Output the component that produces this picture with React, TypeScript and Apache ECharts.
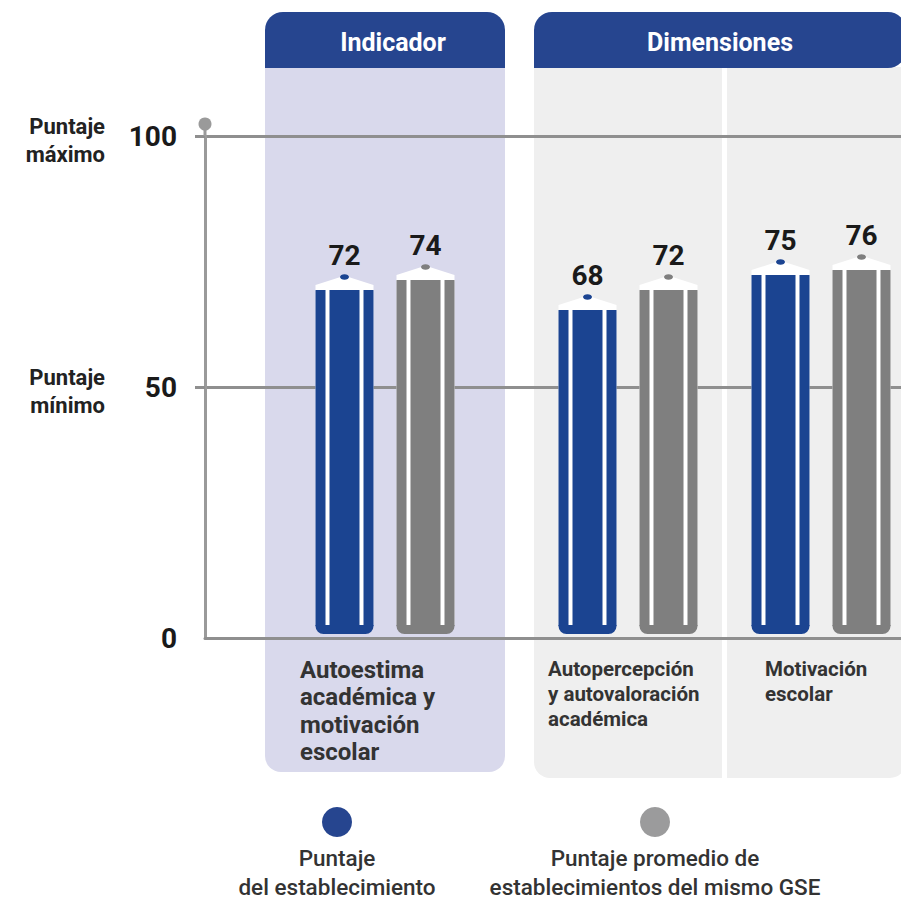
import { useEffect, useRef } from "react";
import * as echarts from "echarts";

// ---- data ----
const panelTitles = ["Indicador", "Dimensiones"];
const categories = [
  "Autoestima académica y motivación escolar",
  "Autopercepción y autovaloración académica",
  "Motivación escolar",
];
const categoryLines = [
  ["Autoestima", "académica y", "motivación", "escolar"],
  ["Autopercepción", "y autovaloración", "académica"],
  ["Motivación", "escolar"],
];
const establecimiento = [72, 68, 75];
const promedioGSE = [74, 72, 76];
const yMin = 0;
const yMax = 100;
const yInterval = 50;
const yAnnotations = [
  { value: 100, text: "Puntaje\nmáximo" },
  { value: 50, text: "Puntaje\nmínimo" },
];
const legendNames = [
  "Puntaje\ndel establecimiento",
  "Puntaje promedio de\nestablecimientos del mismo GSE",
];

// ---- styles ----
const BLUE = "#1b4491";
const GRAY = "#7f7f7f";
const HEADER = "#26458f";
const LAVENDER = "#d9d9ec";
const LIGHT = "#efefef";
const LINE = "#8f8f8f";
const FONT = "Roboto, 'Noto Sans', sans-serif";
const TEXT = "#222";

const MAIN = { left: 205, top: 136, width: 696, height: 502 };
const BAR_TOP = 134;
const BAR_H = 500;
const barGrids = [
  { left: 265, width: 240 },
  { left: 534, width: 188 },
  { left: 741, width: 160 },
];
const labelX = [300, 548, 765];
const labelSize = [24, 20.5, 20.5];
const labelLH = [27.5, 25, 25];

function pencil(color: string, offset: number) {
  return (_params: any, api: any) => {
    const v = api.value(1);
    const p0 = api.coord([0, 0]);
    const cx = p0[0] + offset;
    const base = p0[1];
    const top = api.coord([0, v])[1];
    const w = 58;
    const h = w / 2;
    const bodyTop = top + 16;
    const baseH = 9;
    const bodyH = base - baseH - bodyTop;
    return {
      type: "group",
      children: [
        {
          type: "polygon",
          shape: {
            points: [
              [cx - 4, top + 3],
              [cx + 4, top + 3],
              [cx + h, top + 11],
              [cx + h, bodyTop + 1],
              [cx - h, bodyTop + 1],
              [cx - h, top + 11],
            ],
          },
          style: { fill: "#ffffff" },
        },
        { type: "ellipse", shape: { cx, cy: top + 3, rx: 4.5, ry: 2.8 }, style: { fill: color } },
        { type: "rect", shape: { x: cx - h, y: bodyTop, width: w, height: bodyH }, style: { fill: "#ffffff" } },
        { type: "rect", shape: { x: cx - h, y: bodyTop, width: 10, height: bodyH + 1 }, style: { fill: color } },
        { type: "rect", shape: { x: cx - 15, y: bodyTop, width: 30, height: bodyH + 1 }, style: { fill: color } },
        { type: "rect", shape: { x: cx + h - 10, y: bodyTop, width: 10, height: bodyH + 1 }, style: { fill: color } },
        {
          type: "rect",
          shape: { x: cx - h, y: base - baseH, width: w, height: baseH, r: [0, 0, 8, 8] },
          style: { fill: color },
        },
        {
          type: "text",
          x: cx,
          y: top - 5,
          style: {
            text: String(v),
            align: "center",
            verticalAlign: "bottom",
            font: `bold 28px ${FONT}`,
            fill: "#1a1a1a",
          },
        },
      ],
    };
  };
}

export default function App() {
  const ref = useRef<HTMLDivElement>(null);
  useEffect(() => {
    if (!ref.current) return;
    const chart = echarts.init(ref.current, undefined, { renderer: "svg" });

    const yPix = (v: number) => MAIN.top + MAIN.height * (1 - (v - yMin) / (yMax - yMin));

    const graphics: any[] = [
      // Indicador panel
      { type: "rect", z: 0, shape: { x: 265, y: 67, width: 240, height: 705, r: [0, 0, 16, 16] }, style: { fill: LAVENDER } },
      { type: "rect", z: 0, shape: { x: 265, y: 12, width: 240, height: 56, r: [18, 18, 0, 0] }, style: { fill: HEADER } },
      // Dimensiones panel
      { type: "rect", z: 0, shape: { x: 534, y: 67, width: 372, height: 711, r: [0, 0, 16, 16] }, style: { fill: LIGHT } },
      { type: "rect", z: 0, shape: { x: 534, y: 12, width: 372, height: 56, r: [18, 18, 18, 0] }, style: { fill: HEADER } },
      { type: "rect", z: 0, shape: { x: 722, y: 68, width: 5, height: 712 }, style: { fill: "#ffffff" } },
      {
        type: "text", z: 10, x: 393, y: 42,
        style: { text: panelTitles[0], align: "center", verticalAlign: "middle", font: `bold 25px ${FONT}`, fill: "#ffffff" },
      },
      {
        type: "text", z: 10, x: 720, y: 42,
        style: { text: panelTitles[1], align: "center", verticalAlign: "middle", font: `bold 25px ${FONT}`, fill: "#ffffff" },
      },
      // y-axis extension + dot
      { type: "line", z: 3, shape: { x1: MAIN.left, y1: 124, x2: MAIN.left, y2: MAIN.top }, style: { stroke: "#9a9a9a", lineWidth: 3 } },
      { type: "circle", z: 3, shape: { cx: MAIN.left, cy: 124, r: 6.5 }, style: { fill: "#9a9a9a" } },
    ];

    yAnnotations.forEach((a) => {
      graphics.push({
        type: "text", z: 10, x: 105, y: yPix(a.value) + 4,
        style: {
          text: a.text, align: "right", verticalAlign: "middle",
          font: `bold 22px ${FONT}`, lineHeight: 28, fill: TEXT,
        },
      });
    });

    categoryLines.forEach((lines, i) => {
      graphics.push({
        type: "text", z: 10, x: labelX[i], y: 656,
        style: {
          text: lines.join("\n"), align: "left", verticalAlign: "top",
          font: `bold ${labelSize[i]}px ${FONT}`, lineHeight: labelLH[i], fill: "#333",
        },
      });
    });

    const legendX = [337, 655];
    const legendColors = ["#26458f", "#9b9b9c"];
    legendNames.forEach((n, i) => {
      graphics.push({ type: "circle", z: 10, shape: { cx: legendX[i], cy: 822, r: 15 }, style: { fill: legendColors[i] } });
      graphics.push({
        type: "text", z: 10, x: legendX[i], y: 843,
        style: {
          text: n, align: "center", verticalAlign: "top",
          font: `500 22.5px ${FONT}`, lineHeight: 29, fill: "#333",
        },
      });
    });

    const grids: any[] = [
      { left: MAIN.left, top: MAIN.top, width: MAIN.width, height: MAIN.height },
      ...barGrids.map((g) => ({ left: g.left, top: BAR_TOP, width: g.width, height: BAR_H })),
    ];

    const xAxes: any[] = [
      {
        type: "category", gridIndex: 0, data: [""], z: 1,
        axisLine: { show: true, lineStyle: { color: LINE, width: 3 } },
        axisTick: { show: false }, axisLabel: { show: false },
      },
      ...categories.map((c, i) => ({
        type: "category", gridIndex: i + 1, data: [c], show: false,
      })),
    ];
    const yAxes: any[] = [
      {
        type: "value", gridIndex: 0, min: yMin, max: yMax, interval: yInterval, z: 1,
        axisLine: { show: true, lineStyle: { color: "#9a9a9a", width: 3 } },
        axisTick: { show: true, length: 10, lineStyle: { color: LINE, width: 3 }, customValues: [50, 100] },
        splitLine: { show: true, lineStyle: { color: LINE, width: 3 } },
        axisLabel: { margin: 28, color: "#1a1a1a", fontSize: 28, fontWeight: "bold", fontFamily: FONT },
      },
      ...categories.map((_c, i) => ({
        type: "value", gridIndex: i + 1, min: yMin, max: yMax, show: false,
      })),
    ];

    const series: any[] = [];
    categories.forEach((_c, i) => {
      series.push({
        type: "custom", name: legendNames[0].replace("\n", " "), coordinateSystem: "cartesian2d",
        xAxisIndex: i + 1, yAxisIndex: i + 1, z: 5, clip: false,
        data: [[0, establecimiento[i]]], encode: { x: 0, y: 1 },
        renderItem: pencil(BLUE, -40.5),
      });
      series.push({
        type: "custom", name: legendNames[1].replace("\n", " "), coordinateSystem: "cartesian2d",
        xAxisIndex: i + 1, yAxisIndex: i + 1, z: 5, clip: false,
        data: [[0, promedioGSE[i]]], encode: { x: 0, y: 1 },
        renderItem: pencil(GRAY, 40.5),
      });
    });

    chart.setOption({
      animation: false,
      backgroundColor: "#ffffff",
      grid: grids,
      xAxis: xAxes,
      yAxis: yAxes,
      series,
      graphic: { elements: graphics },
    });
    return () => chart.dispose();
  }, []);

  return (
    <div
      ref={ref}
      style={{ position: "fixed", left: 0, top: 0, width: 901, height: 901, background: "#fff" }}
    />
  );
}
